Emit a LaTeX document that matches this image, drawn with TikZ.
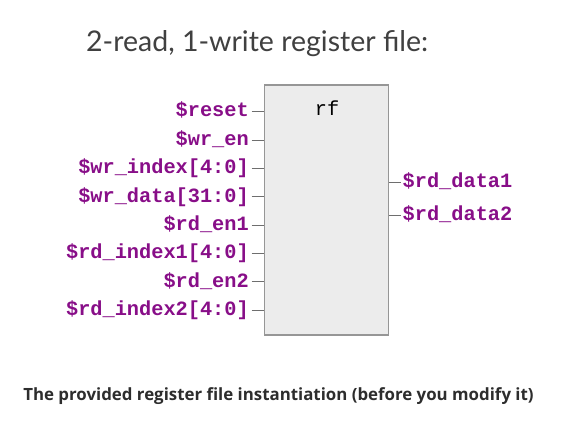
\documentclass[tikz,border=0pt]{standalone}
\usepackage{fontspec}
\setmainfont{Lato}
\newfontfamily\monofont{Liberation Mono}
\newfontfamily\capfont{Open Sans}
\definecolor{sigpurple}{RGB}{136,14,136}
\definecolor{boxfill}{RGB}{236,236,236}
\definecolor{boxline}{RGB}{150,150,150}
\definecolor{stubline}{RGB}{110,110,110}
\definecolor{titlegray}{RGB}{64,64,64}
\definecolor{capgray}{RGB}{45,45,45}
\begin{document}
\begin{tikzpicture}[x=1pt,y=-1pt,
  inlbl/.style={anchor=base east,inner sep=0pt,font=\monofont\bfseries\fontsize{20.3}{22}\selectfont,text=sigpurple},
  outlbl/.style={anchor=base west,inner sep=0pt,font=\monofont\bfseries\fontsize{20.3}{22}\selectfont,text=sigpurple},
  stub/.style={draw=stubline,line width=0.9pt},
  rfbox/.style={draw=boxline,fill=boxfill,line width=1.4pt,minimum width=124pt,minimum height=250pt,inner sep=0pt}]
\useasboundingbox (0,0) rectangle (579,441);
\node[anchor=base west,inner sep=0pt,text=titlegray,font=\fontsize{28.5}{31}\selectfont] (title) at (86,52) {2-read, 1-write register file:};
\node[rfbox] (rf) at (326.3,210) {};
\node[anchor=base,inner sep=0pt,font=\monofont\fontsize{20.3}{22}\selectfont] (rflbl) at (327,116) {rf};
\foreach \n/\t/\y in {a/{\$reset}/111.5,b/{\$wr\_en}/140,c/{\$wr\_index[4:0]}/168.3,d/{\$wr\_data[31:0]}/196.6,e/{\$rd\_en1}/225,f/{\$rd\_index1[4:0]}/253.3,g/{\$rd\_en2}/281.6,h/{\$rd\_index2[4:0]}/310}{
  \node[inlbl] (in\n) at (249,\y+5.5) {\t};
  \coordinate (ins\n) at (251.5,\y);
  \draw[stub] (ins\n) -- (ins\n -| rf.west);
}
\foreach \n/\t/\y in {a/{\$rd\_data1}/182,b/{\$rd\_data2}/215}{
  \node[outlbl] (out\n) at (402.5,\y+5.5) {\t};
  \coordinate (outs\n) at (401,\y);
  \draw[stub] (rf.east |- outs\n) -- (outs\n);
}
\node[anchor=base,inner sep=0pt,text=capgray,font=\capfont\bfseries\fontsize{16.85}{18}\selectfont] (cap) at (278.5,400) {The provided register file instantiation (before you modify it)};
\end{tikzpicture}
\end{document}
